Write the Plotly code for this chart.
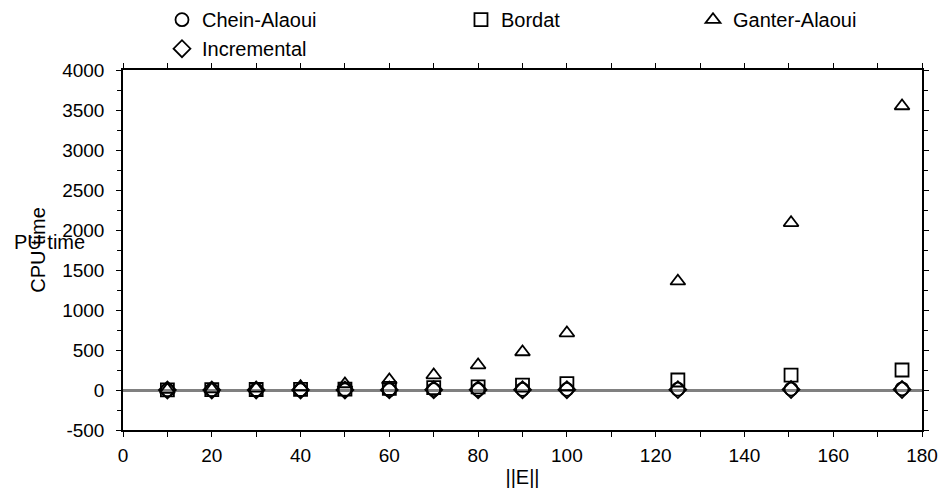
import plotly.graph_objects as go

edges = [10, 20, 30, 40, 50, 60, 70, 80, 90, 100, 125, 150.5, 175.5]
chein_alaoui = [0.5, 1, 1.5, 2, 3, 4, 5, 6, 7, 8, 10, 12, 15]
bordat = [2, 4, 6, 8, 10, 20, 30, 40, 60, 80, 125, 185, 250]
ganter_alaoui = [5, 10, 20, 40, 75, 125, 187, 312, 475, 712, 1360, 2090, 3550]
incremental = [0.2, 0.4, 0.6, 0.8, 1, 1.5, 2, 2.5, 3, 3.5, 4.5, 5.5, 7]
y_ticks = [-500, 0, 500, 1000, 1500, 2000, 2500, 3000, 3500, 4000]
y_ticktext = ["-500", "0", "500", "1000", "1500", "2000", "2500", "3000", "3500", "4000"]

FONT = "Liberation Sans, Arial, sans-serif"
mk = dict(color="black", size=13, line=dict(color="black", width=1.8))

fig = go.Figure()
fig.add_trace(go.Scatter(x=edges, y=chein_alaoui, mode="markers", name="Chein-Alaoui",
                         marker=dict(symbol="circle-open", **mk), legend="legend"))
fig.add_trace(go.Scatter(x=edges, y=bordat, mode="markers", name="Bordat",
                         marker=dict(symbol="square-open", **mk), legend="legend2"))
fig.add_trace(go.Scatter(x=edges, y=ganter_alaoui, mode="markers", name="Ganter-Alaoui",
                         marker=dict(symbol="triangle-up-open", **mk), legend="legend3"))
fig.add_trace(go.Scatter(x=edges, y=incremental, mode="markers", name="Incremental",
                         marker=dict(symbol="diamond-open", **mk), legend="legend"))

leg = dict(orientation="v", yanchor="top", xanchor="left",
           font=dict(family=FONT, size=20, color="black"), bgcolor="rgba(0,0,0,0)",
           itemwidth=30)

axis_common = dict(showline=True, linecolor="black", linewidth=1.5, mirror="ticks",
                   ticks="outside", ticklen=5, tickcolor="black", tickwidth=1.2,
                   showgrid=False, automargin=False,
                   tickfont=dict(family=FONT, size=19, color="black"))

fig.update_layout(
    width=938, height=490,
    margin=dict(l=123, r=16, t=70, b=60, autoexpand=False),
    paper_bgcolor="white", plot_bgcolor="white",
    font=dict(family=FONT, size=19, color="black"),
    showlegend=True,
    legend=dict(x=0.0488, y=1.194, **leg),
    legend2=dict(x=0.4230, y=1.194, **leg),
    legend3=dict(x=0.7134, y=1.194, **leg),
    xaxis=dict(range=[0, 180], dtick=20, tick0=0, ticklabelstandoff=2,
               minor=dict(dtick=10, ticks="outside", ticklen=5, tickcolor="black", showgrid=False),
               title=dict(text="||E||", font=dict(family=FONT, size=20, color="black"), standoff=5),
               zeroline=False, **axis_common),
    yaxis=dict(range=[-500, 4000], tickvals=y_ticks, ticktext=y_ticktext, ticklabelstandoff=8,
               minor=dict(dtick=250, ticks="outside", ticklen=4, tickcolor="black", showgrid=False),
               title=dict(text="CPU time", font=dict(family=FONT, size=20, color="black"), standoff=11),
               zeroline=True, zerolinecolor="#808080", zerolinewidth=2.5, layer="above traces",
               **axis_common),
)

fig.add_annotation(text="PU time", xref="paper", yref="paper", x=-0.139, y=0.522,
                   xanchor="left", showarrow=False, font=dict(family=FONT, size=20, color="black"))

fig.write_html("out.html")
